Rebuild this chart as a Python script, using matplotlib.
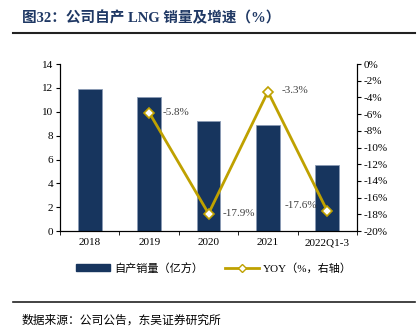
import matplotlib.pyplot as plt
from matplotlib.lines import Line2D
import numpy as np

plt.rcParams['font.family'] = ['Liberation Serif', 'Noto Sans CJK SC']

years = ['2018', '2019', '2020', '2021', '2022Q1-3']
volume = [11.9, 11.2, 9.2, 8.9, 5.5]          # 自产销量（亿方）
yoy_years = ['2019', '2020', '2021', '2022Q1-3']
yoy = [-5.8, -17.9, -3.3, -17.6]              # YOY（%）

navy = '#17355e'
gold = '#bfa100'
mixed = ['Liberation Serif', 'Noto Sans CJK SC']
cjk = ['Noto Sans CJK SC', 'DejaVu Sans']

fig = plt.figure(figsize=(4.2, 3.32), dpi=100)
ax = fig.add_axes([0.143, 0.304, 0.707, 0.503])
ax2 = ax.twinx()

x = np.arange(len(years))
ax.bar(x, volume, width=0.4, color=navy, edgecolor='#8a9bb5', linewidth=0.6, zorder=2)
ax.set_ylim(0, 14)
ax.set_yticks(range(0, 15, 2))
ax.set_xlim(-0.5, len(years) - 0.5)
ax.set_xticks(x)
ax.set_xticklabels(years)
ax.set_xticks(np.arange(-0.5, len(years), 1), minor=True)
ax.tick_params(axis='x', which='major', length=0, pad=5, labelsize=8)
ax.tick_params(axis='x', which='minor', length=3, direction='out')
ax.tick_params(axis='y', length=3, labelsize=8, pad=2)

xi = [years.index(y) for y in yoy_years]
ax2.plot(xi, yoy, color=gold, linewidth=2, marker='D', markersize=5,
         markerfacecolor='white', markeredgecolor=gold, markeredgewidth=1.2, zorder=3)
ax2.set_ylim(-20, 0)
ax2.set_yticks(range(-20, 1, 2))
ax2.set_yticklabels([f'{v}%' for v in range(-20, 1, 2)])
ax2.tick_params(axis='y', length=3, labelsize=8, pad=2)

offsets = [(10, 0, 'left'), (10, 0, 'left'), (10, 1, 'left'), (-7, 4, 'right')]
for xp, v, (dx, dy, ha) in zip(xi, yoy, offsets):
    ax2.annotate(f'{v}%', (xp, v), xytext=(dx, dy), textcoords='offset points',
                 ha=ha, va='center', fontsize=8, color='#404040')

for a in (ax, ax2):
    a.spines['top'].set_visible(False)
    for s in ('left', 'right', 'bottom'):
        a.spines[s].set_linewidth(0.8)
ax.set_zorder(ax2.get_zorder() - 1)
ax.patch.set_visible(False)

handles = [
    plt.Rectangle((0, 0), 1, 1, color=navy),
    Line2D([], [], color=gold, linewidth=2, marker='D', markersize=4,
           markerfacecolor='white', markeredgecolor=gold),
]
fig.legend(handles, ['自产销量（亿方）', 'YOY（%，右轴）'], loc='center',
           bbox_to_anchor=(0.51, 0.193), ncol=2, frameon=False,
           handlelength=3, columnspacing=2, handletextpad=0.4,
           prop={'family': mixed, 'size': 8})

fig.text(0.052, 0.945, '图32：公司自产 LNG 销量及增速（%）', fontsize=10.5,
         fontweight='bold', color='#1f3864', family=mixed, va='center')
fig.add_artist(Line2D([0.031, 0.988], [0.9, 0.9], color='#222222', linewidth=1.5))
fig.add_artist(Line2D([0.031, 0.988], [0.09, 0.09], color='#222222', linewidth=1.2))
fig.text(0.052, 0.035, '数据来源：公司公告，东吴证券研究所', fontsize=8.5,
         color='black', family=cjk, va='center')

fig.savefig('out.png', dpi=100)
